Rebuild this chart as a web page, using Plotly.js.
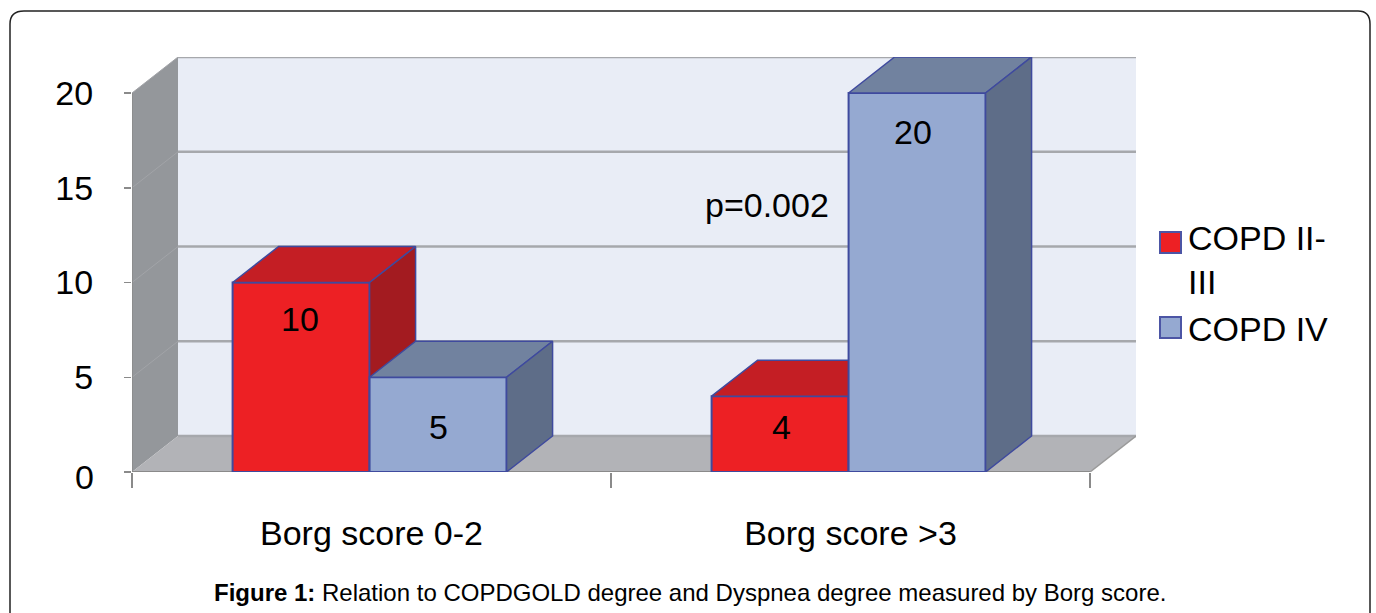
<!DOCTYPE html>
<html><head><meta charset="utf-8">
<script src="https://cdn.plot.ly/plotly-3.0.1.min.js"></script>
<style>html,body{margin:0;padding:0;background:#fff;overflow:hidden}</style>
</head><body><div id="chart" style="width:1376px;height:613px"></div>
<script>
const categories = ['Borg score 0-2', 'Borg score >3'];
const seriesNames = ['COPD II-<br>III', 'COPD IV'];
const copd23 = [10, 4];
const copd4 = [5, 20];
const labelY23 = [8.05, 2.4];
const labelY4 = [2.4, 17.95];
const yTicks = [0, 5, 10, 15, 20];
const yTickText = ['', '5', '10', '15', '20'];
const captionBold = 'Figure 1:';
const captionText = ' Relation to COPDGOLD degree and Dyspnea degree measured by Borg score.';
const pValue = 'p=0.002';

// geometry of the pseudo-3D chart, all in axis units
const W = 1376, H = 613, L = 132, R = 1136, T = 57, B = 472;
const XU = 479, YU = 18.95;
const DX = 46 / XU, DY = 36 / YU;
const BW = 137 / XU, X0 = -0.5, XE = 1.5;
const xRange = [X0, X0 + (R - L) / XU], yRange = [0, (B - T) / YU];
const EDGE = '#3f4a9e';
const FAMILY = '"Liberation Sans", Arial, sans-serif';

const poly = (xs, ys, fill, line, axes) => Object.assign({
  type: 'scatter', mode: line ? 'lines' : 'none', x: xs, y: ys, fill: 'toself', fillcolor: fill,
  line: line ? { color: line, width: 1.5 } : undefined, hoverinfo: 'skip', showlegend: false, cliponaxis: false
}, axes || {});
const seg = (xs, ys, color, width) => ({
  type: 'scatter', mode: 'lines', x: xs, y: ys, line: { color, width }, hoverinfo: 'skip', showlegend: false, cliponaxis: false
});

const traces = [];
// left wall, floor, back wall
traces.push(poly([X0, X0 + DX, X0 + DX, X0, X0], [0, DY, 20 + DY, 20, 0], '#94979b', null));
traces.push(poly([X0 + DX, XE + DX, XE + DX, X0 + DX, X0 + DX], [DY, DY, 20 + DY, 20 + DY, DY], '#e9edf6', null));
traces.push(poly([X0, XE, XE + DX, X0 + DX, X0], [0, 0, DY, DY, 0], '#b2b3b7', null));
// gridlines on the back wall and left wall
yTicks.forEach(v => {
  if (v > 0) traces.push(seg([X0, X0 + DX], [v, v + DY], '#a2a4a8', 1));
  traces.push(seg([X0 + DX, XE + DX], [v + DY, v + DY], '#a6a8ac', 2.5));
});
// axis lines
traces.push(seg([X0, XE], [0, 0], '#8a8a8a', 2));
traces.push(seg([XE, XE + DX], [0, DY], '#9a9a9a', 1.5));
traces.push(seg([X0, X0], [0, 20], '#8a8a8a', 1.5));

const OFF = [-0.29, -0.004];
function box(vals, off, front, top, side, name, axes) {
  const out = [{
    type: 'bar', name: name.replace('<br>', ''), showlegend: false, x: categories.map((c, i) => i), y: vals, width: BW, offset: off,
    marker: { color: front, line: { color: EDGE, width: 2 } }, hoverinfo: 'skip', ...axes
  }];
  vals.forEach((v, i) => {
    const a = i + off, b = a + BW;
    out.push(poly([a, b, b + DX, a + DX, a], [v, v, v + DY, v + DY, v], top, EDGE, axes));
    out.push(poly([b, b + DX, b + DX, b, b], [0, DY, v + DY, v, 0], side, EDGE, axes));
  });
  return out;
}
traces.push(...box(copd23, OFF[0], '#ed2024', '#c41e24', '#a31b20', seriesNames[0], { xaxis: 'x2', yaxis: 'y2' }));
traces.push(...box(copd4, OFF[1], '#95a9d1', '#71829f', '#5e6d88', seriesNames[1], { xaxis: 'x3', yaxis: 'y3' }));
// legend text entries; their large square keys are drawn as shapes below
seriesNames.forEach(n => traces.push({ type: 'scatter', mode: 'none', x: [null], y: [null], name: n, showlegend: true, hoverinfo: 'skip' }));

const text = (x, y, t, size) => ({ x, y, text: t, showarrow: false, xref: 'x', yref: 'y',
  font: { size: size || 34, color: '#000', family: FAMILY } });
const annotations = [];
const nudge23 = [-1 / XU, 1 / XU], nudge4 = [0, -4 / XU];
copd23.forEach((v, i) => annotations.push(text(i + OFF[0] + BW / 2 + nudge23[i], labelY23[i], String(v))));
copd4.forEach((v, i) => annotations.push(text(i + OFF[1] + BW / 2 + nudge4[i], labelY4[i], String(v))));
annotations.push(text(X0 + (767 - L) / XU, (B - 205) / YU, pValue));

const px = x => (x - L) / (R - L), py = y => (B - y) / (B - T);
annotations.push({
  xref: 'paper', yref: 'paper', x: px(84), y: py(477), xanchor: 'center', yanchor: 'middle', showarrow: false,
  text: String(yTicks[0]), font: { size: 34, color: '#000', family: FAMILY }
});
annotations.push({
  xref: 'paper', yref: 'paper', x: px(690), y: py(592), xanchor: 'center', yanchor: 'middle', showarrow: false,
  text: '<b>' + captionBold + '</b>' + captionText,
  font: { size: 24, color: '#000', family: FAMILY }
});

const swatch = (x, y, fill) => ({
  type: 'rect', xref: 'paper', yref: 'paper', layer: 'above',
  x0: px(x), x1: px(x + 21), y0: py(y + 21), y1: py(y), fillcolor: fill, line: { color: '#4c55a5', width: 2 }
});
const shapes = [
  { type: 'path', xref: 'paper', yref: 'paper', layer: 'below', fillcolor: 'rgba(0,0,0,0)',
    line: { color: '#222', width: 1.5 },
    path: `M ${px(10)} ${py(640)} L ${px(10)} ${py(24)} Q ${px(10)} ${py(11)} ${px(24)} ${py(11)} L ${px(1358)} ${py(11)} Q ${px(1370)} ${py(11)} ${px(1370)} ${py(24)} L ${px(1370)} ${py(640)}` },
  swatch(1160, 232, '#ed2024'),
  swatch(1160, 317, '#95a9d1')
];

const font = { family: FAMILY, size: 34, color: '#000' };
const layout = {
  width: W, height: H, autosize: false, paper_bgcolor: '#fff', plot_bgcolor: 'rgba(0,0,0,0)',
  margin: { l: L, r: W - R, t: T, b: H - B, pad: 0 }, font, barmode: 'overlay',
  xaxis: {
    range: xRange, showgrid: false, zeroline: false, showline: false,
    tickmode: 'array', tickvals: categories.map((c, i) => i), ticktext: categories,
    ticks: '', ticklabelstandoff: 38, tickfont: font,
    minor: { tickmode: 'array', tickvals: [X0, X0 + 1, XE], ticks: 'outside', ticklen: 15, tickcolor: '#8a8a8a', tickwidth: 1.5, showgrid: false }
  },
  yaxis: {
    range: yRange, showgrid: false, zeroline: false, showline: false,
    tickmode: 'array', tickvals: yTicks, ticktext: yTickText, ticks: 'outside', ticklen: 7, tickcolor: '#8a8a8a', tickwidth: 1.5,
    ticklabelstandoff: 24, tickfont: font
  },
  xaxis2: { range: xRange, overlaying: 'x', visible: false, anchor: 'y2' },
  yaxis2: { range: yRange, overlaying: 'y', visible: false, anchor: 'x2' },
  xaxis3: { range: xRange, overlaying: 'x', visible: false, anchor: 'y3' },
  yaxis3: { range: yRange, overlaying: 'y', visible: false, anchor: 'x3' },
  showlegend: true,
  legend: { x: px(1148), y: py(208), xanchor: 'left', yanchor: 'top', bgcolor: 'rgba(0,0,0,0)', font, tracegroupgap: 0 },
  annotations, shapes
};
Plotly.newPlot('chart', traces, layout, { displayModeBar: false, staticPlot: true });
</script></body></html>
